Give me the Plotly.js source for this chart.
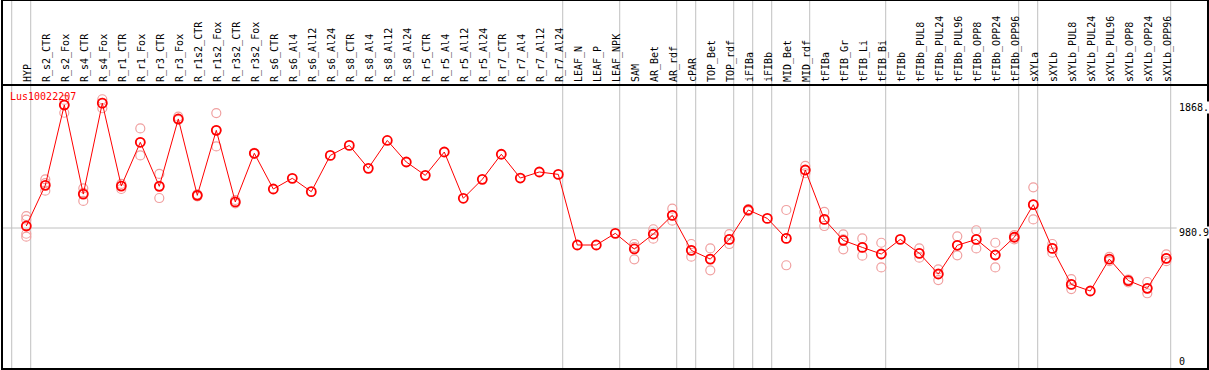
<!DOCTYPE html>
<html><head><meta charset="utf-8">
<script src="https://cdn.plot.ly/plotly-3.0.1.min.js"></script>
<style>html,body{margin:0;padding:0;background:#fff}</style>
</head><body><div id="chart" style="width:1209px;height:370px"></div>
<script>
const categories = ["HYP","R_s2_CTR","R_s2_Fox","R_s4_CTR","R_s4_Fox","R_r1_CTR","R_r1_Fox","R_r3_CTR","R_r3_Fox","R_r1s2_CTR","R_r1s2_Fox","R_r3s2_CTR","R_r3s2_Fox","R_s6_CTR","R_s6_Al4","R_s6_Al12","R_s6_Al24","R_s8_CTR","R_s8_Al4","R_s8_Al12","R_s8_Al24","R_r5_CTR","R_r5_Al4","R_r5_Al12","R_r5_Al24","R_r7_CTR","R_r7_Al4","R_r7_Al12","R_r7_Al24","LEAF_N","LEAF_P","LEAF_NPK","SAM","AR_Bet","AR_rdf","cPAR","TOP_Bet","TOP_rdf","iFIBa","iFIBb","MID_Bet","MID_rdf","tFIBa","tFIB_Gr","tFIB_Li","tFIB_Bi","tFIBb","tFIBb_PUL8","tFIBb_PUL24","tFIBb_PUL96","tFIBb_OPP8","tFIBb_OPP24","tFIBb_OPP96","sXYLa","sXYLb","sXYLb_PUL8","sXYLb_PUL24","sXYLb_PUL96","sXYLb_OPP8","sXYLb_OPP24","sXYLb_OPP96"];

const meanValues = [995,1284,1855,1222,1868,1279,1590,1277,1756,1213,1675,1166,1512,1258,1334,1239,1497,1568,1405,1603,1450,1355,1521,1192,1327,1505,1336,1379,1362,860,860,943,832,938,1071,822,760,900,1109,1049,907,1393,1042,893,843,796,900,801,654,858,900,789,915,1147,836,580,533,760,607,552,765];

const repA = [1066,1327,1891,1263,1896,1294,1689,1365,1772,1220,1798,1180,1515,null,null,null,null,null,null,null,null,null,null,null,null,null,null,null,null,null,null,null,867,972,1118,867,836,938,1115,null,1109,1422,1095,936,907,876,null,836,687,922,965,876,930,1270,867,618,null,775,615,597,794];
const repB = [919,1246,1800,1173,1832,1258,1497,1194,1750,1205,1561,1156,1508,null,null,null,null,null,null,null,null,null,null,null,null,null,null,null,null,null,null,null,758,905,1033,777,680,867,1100,null,716,1370,995,829,784,701,null,770,611,787,836,701,900,1042,805,547,null,745,595,517,745];
const repC = [1040,1300,1855,1230,1870,1280,1590,1280,1756,1213,1675,1166,1512,null,null,null,null,null,null,null,null,null,null,null,null,null,null,null,null,null,null,null,845,938,1071,822,760,900,1109,null,907,1393,1042,900,843,796,null,801,654,858,900,789,915,1147,836,580,null,760,607,552,765];
const repD = [940,null,null,null,null,null,null,null,null,null,null,null,null,null,null,null,null,null,null,null,null,null,null,null,null,null,null,null,null,null,null,null,null,null,null,null,null,null,null,null,null,null,null,null,null,null,null,null,null,null,null,null,null,null,null,null,null,null,null,null,null];

const groupEnds = [-1,0,28,31,34,35,37,38,39,41,45,52,53,60];
const refValues = [1868, 980.9, 0];
const refLabels = ["1868.", "980.9", "0"];
const geneName = "Lus10022207";

const idx = categories.map((c, i) => i);
const mono = "DejaVu Sans Mono, monospace";

const repX = [], repY = [];
[repA, repB, repC, repD].forEach(arr => arr.forEach((v, i) => { if (v !== null) { repX.push(i); repY.push(v); } }));

const traces = [
  {x: repX, y: repY, type: "scatter", mode: "markers", hoverinfo: "skip",
   marker: {symbol: "circle-open", size: 9, color: "#f0a0a0", line: {width: 1.2, color: "#f0a0a0"}}},
  {x: idx, y: meanValues, type: "scatter", mode: "lines+markers",
   line: {color: "#ff0000", width: 1},
   marker: {symbol: "circle-open", size: 9, color: "#ff0000", line: {width: 1.8, color: "#ee0000"}}}
];

const topY = 1 + 85 / 284;
const shapes = [];
groupEnds.forEach(g => shapes.push({type: "line", xref: "x", yref: "paper", x0: g + 0.232, x1: g + 0.232, y0: 0, y1: topY, line: {color: "#c0c0c0", width: 1}, layer: "below"}));
shapes.push({type: "line", xref: "paper", yref: "y", x0: 0, x1: 0.974, y0: refValues[1], y1: refValues[1], line: {color: "#c0c0c0", width: 1}, layer: "below"});
shapes.push({type: "rect", xref: "paper", yref: "paper", x0: 0, x1: 1, y0: 0, y1: topY, line: {color: "#000", width: 2}});
shapes.push({type: "line", xref: "paper", yref: "paper", x0: 0, x1: 1, y0: 1, y1: 1, line: {color: "#000", width: 2}});

const annotations = refValues.map((v, k) => ({
  xref: "paper", yref: "y", x: (1178 - 2) / 1206, y: v, xanchor: "left", yanchor: "middle",
  yshift: k === 2 ? 4.3 : -4.2, text: refLabels[k], showarrow: false,
  font: {family: mono, size: 10, color: "#000"}, bgcolor: "#ffffff", borderpad: 0
}));
annotations.push({xref: "paper", yref: "paper", x: 6 / 1206, y: (369 - 96.7) / 284, xanchor: "left", yanchor: "middle",
  text: geneName, showarrow: false, font: {family: mono, size: 10, color: "#ff0000"}});

const layout = {
  width: 1209, height: 370, margin: {l: 2, r: 1, t: 85, b: 1, pad: 0},
  paper_bgcolor: "#fff", plot_bgcolor: "#fff", showlegend: false,
  xaxis: {range: [-1.279, 62.195], side: "top", tickmode: "array", tickvals: idx, ticktext: categories,
    tickangle: -90, tickfont: {family: mono, size: 10, color: "#000"}, ticks: "", ticklabelstandoff: 2, ticklabelshift: 1,
    showgrid: false, zeroline: false, showline: false, fixedrange: true},
  yaxis: {range: [-21.3, 1997.3], showticklabels: false, showgrid: false, zeroline: false, showline: false, ticks: "", fixedrange: true},
  shapes: shapes, annotations: annotations
};
Plotly.newPlot("chart", traces, layout, {displayModeBar: false, staticPlot: true});
</script></body></html>
